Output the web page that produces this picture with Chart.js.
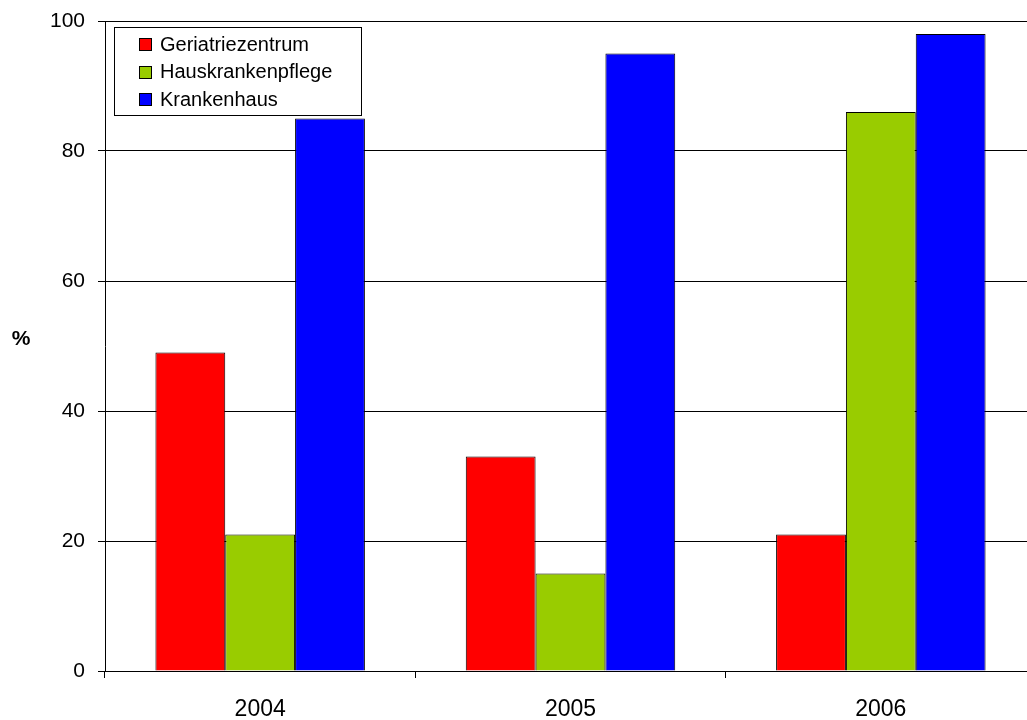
<!DOCTYPE html>
<html>
<head>
<meta charset="utf-8">
<script src="https://cdn.jsdelivr.net/npm/chart.js@4/dist/chart.umd.min.js"></script>
<style>
  html, body { margin: 0; padding: 0; background: #fff; overflow: hidden; }
  #wrap { width: 1036px; height: 720px; position: relative; }
</style>
</head>
<body>
<div id="wrap"><canvas id="chart"></canvas></div>
<script>
const years = ['2004', '2005', '2006'];
const geriatrie = [49, 33, 21];
const hauskranken = [21, 15, 86];
const krankenhaus = [85, 95, 98];
const yTicks = [0, 20, 40, 60, 80, 100];

const font = 'Arial, "Liberation Sans", sans-serif';

// legend box and the "%" label drawn onto the canvas
const extras = {
  id: 'extras',
  afterDraw(chart) {
    const ctx = chart.ctx;
    ctx.save();
    ctx.fillStyle = '#000';
    ctx.font = 'bold 21px ' + font;
    ctx.textAlign = 'center';
    ctx.textBaseline = 'middle';
    ctx.fillText('%', 21, 339);

    ctx.fillStyle = '#fff';
    ctx.fillRect(114.5, 27.5, 247, 88);
    ctx.strokeStyle = '#000';
    ctx.lineWidth = 1;
    ctx.strokeRect(114.5, 27.5, 247, 88);

    ctx.font = '20px ' + font;
    ctx.textAlign = 'left';
    chart.data.datasets.forEach((ds, i) => {
      const cy = 44 + i * 27.5;
      ctx.fillStyle = ds.backgroundColor;
      ctx.fillRect(139.5, Math.round(cy - 6) + 0.5, 12, 12);
      ctx.strokeRect(139.5, Math.round(cy - 6) + 0.5, 12, 12);
      ctx.fillStyle = '#000';
      ctx.fillText(ds.label, 160, cy + 1);
    });
    ctx.restore();
  }
};

new Chart(document.getElementById('chart'), {
  type: 'bar',
  data: {
    labels: years,
    datasets: [
      { label: 'Geriatriezentrum', data: geriatrie, backgroundColor: '#ff0000' },
      { label: 'Hauskrankenpflege', data: hauskranken, backgroundColor: '#99cc00' },
      { label: 'Krankenhaus', data: krankenhaus, backgroundColor: '#0000ff' },
    ],
  },
  options: {
    responsive: true,
    maintainAspectRatio: false,
    animation: false,
    layout: { padding: { top: 21, left: 0, right: 0, bottom: 0 } },
    datasets: {
      bar: { borderColor: '#000', borderWidth: 1, barPercentage: 1, categoryPercentage: 0.675 },
    },
    plugins: { legend: { display: false }, tooltip: { enabled: false } },
    scales: {
      x: {
        grid: { offset: true, drawOnChartArea: false, color: '#000', tickLength: 7 },
        border: { color: '#000', width: 1 },
        ticks: { color: '#000', font: { family: font, size: 23 }, padding: 18, maxRotation: 0 },
        afterFit(scale) { scale.height = 49; scale.paddingLeft = 0; scale.paddingRight = 0; },
      },
      y: {
        min: 0,
        max: 100,
        afterBuildTicks(scale) { scale.ticks = yTicks.map(v => ({ value: v })); },
        grid: { color: '#000', tickLength: 7 },
        border: { color: '#000', width: 1 },
        ticks: { color: '#000', font: { family: font, size: 21 }, padding: 13 },
        afterFit(scale) { scale.width = 105; scale.paddingTop = 0; scale.paddingBottom = 0; },
      },
    },
  },
  plugins: [extras],
});
</script>
</body>
</html>
